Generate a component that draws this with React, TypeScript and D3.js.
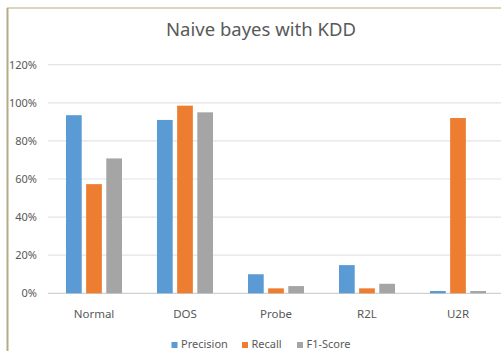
import React from "react";
import * as d3 from "d3";

const categories = ["Normal", "DOS", "Probe", "R2L", "U2R"];
const seriesNames = ["Precision", "Recall", "F1-Score"];
const precision = [93.5, 91, 10, 14.8, 1.2];
const recall = [57.3, 98.5, 2.6, 2.6, 92];
const f1Score = [70.8, 95, 3.8, 5, 1.2];
const yTicks = [0, 20, 40, 60, 80, 100, 120];
const colors = ["#5b9bd5", "#ed7d31", "#a5a5a5"];
const title = "Naive bayes with KDD";

const W = 501;
const H = 351;
const FONT = "'Noto Sans', 'Open Sans', sans-serif";

export default function App() {
  const seriesValues = [precision, recall, f1Score];
  const x = d3.scaleBand<string>().domain(categories).range([48.5, 503.5]).padding(0);
  const bw = x.bandwidth();
  const groupW = 56;
  const xi = d3
    .scaleBand<string>()
    .domain(seriesNames)
    .range([(bw - groupW) / 2, (bw + groupW) / 2])
    .paddingInner(0.22)
    .paddingOuter(0);
  const y = d3.scaleLinear().domain([0, 120]).range([293.3, 64.7]);

  const legendItems = [
    { name: seriesNames[0], sx: 171.5, tx: 181 },
    { name: seriesNames[1], sx: 242, tx: 251.5 },
    { name: seriesNames[2], sx: 297, tx: 306.5 },
  ];

  return (
    <div style={{ position: "absolute", left: 0, top: 0 }}>
      <svg width={W} height={H} style={{ display: "block", background: "#fff" }}>
        <rect x={0} y={0} width={W} height={H} fill="#fff" />
        {/* border */}
        <line x1={7} y1={8} x2={W} y2={8} stroke="#cfc7a8" strokeWidth={1.5} />
        <line x1={7.5} y1={8} x2={7.5} y2={H} stroke="#b5ab85" strokeWidth={2} />
        <text
          x={261}
          y={36}
          textAnchor="middle"
          fontFamily={FONT}
          fontSize={18.5}
          fill="#595959"
        >
          {title}
        </text>
        {yTicks.map((t) => (
          <g key={t}>
            <line
              x1={48}
              x2={W}
              y1={y(t)}
              y2={y(t)}
              stroke={t === 0 ? "#d0d0d0" : "#e3e3e3"}
              strokeWidth={1.2}
            />
            <text
              x={37}
              y={y(t)}
              dy="0.35em"
              textAnchor="end"
              fontFamily={FONT}
              fontSize={11}
              fill="#595959"
            >
              {t}%
            </text>
          </g>
        ))}
        {categories.map((c, ci) => (
          <g key={c} transform={`translate(${x(c)},0)`}>
            {seriesNames.map((s, si) => {
              const v = seriesValues[si][ci];
              return (
                <rect
                  key={s}
                  x={xi(s)}
                  y={y(v)}
                  width={xi.bandwidth()}
                  height={y(0) - y(v)}
                  fill={colors[si]}
                />
              );
            })}
            <text
              x={bw / 2}
              y={318}
              textAnchor="middle"
              fontFamily={FONT}
              fontSize={11.5}
              fill="#595959"
            >
              {c}
            </text>
          </g>
        ))}
        {legendItems.map((l, i) => (
          <g key={l.name}>
            <rect x={l.sx} y={342} width={6} height={6} fill={colors[i]} />
            <text x={l.tx} y={348} fontFamily={FONT} fontSize={11} fill="#595959">
              {l.name}
            </text>
          </g>
        ))}
      </svg>
    </div>
  );
}
